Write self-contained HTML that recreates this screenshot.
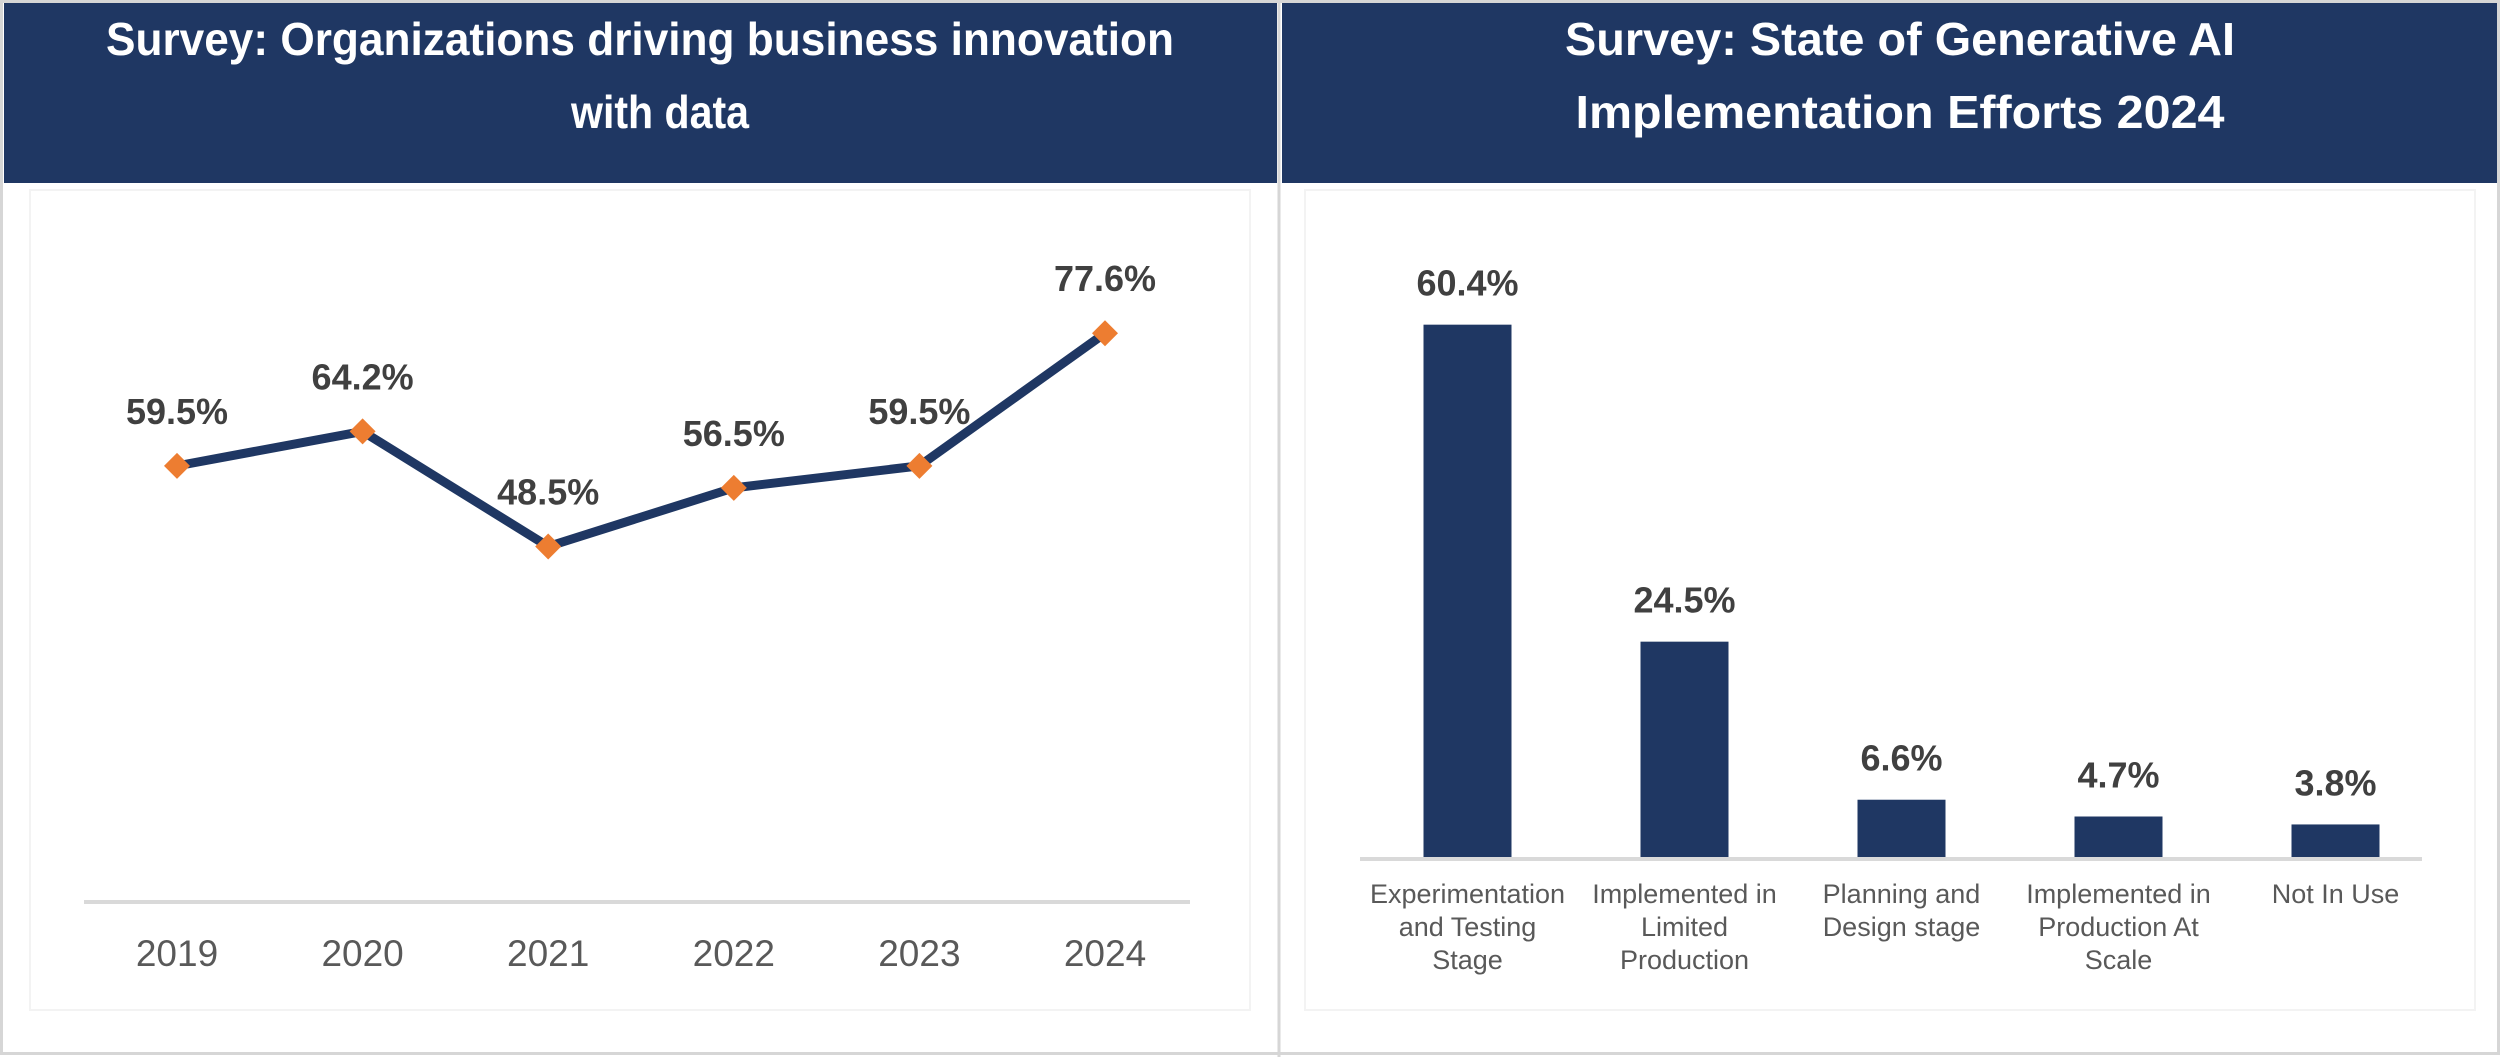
<!DOCTYPE html>
<html><head><meta charset="utf-8"><style>
html,body{margin:0;padding:0;background:#fff;}
svg{display:block;}
text{font-family:"Liberation Sans",sans-serif;}
</style></head><body>
<svg id="root" width="2500" height="1057" viewBox="0 0 2500 1057" xmlns="http://www.w3.org/2000/svg">
<rect x="0" y="0" width="2500" height="1057" fill="#fff"/>
<rect x="1.5" y="1.5" width="2497" height="1052" fill="none" stroke="#d6d6d6" stroke-width="3"/>
<line x1="1279" y1="0" x2="1279" y2="1057" stroke="#d6d6d6" stroke-width="3"/>
<rect x="30" y="190" width="1220" height="820" fill="none" stroke="#f3f3f3" stroke-width="2"/>
<rect x="1305" y="190" width="1170" height="820" fill="none" stroke="#f3f3f3" stroke-width="2"/>
<g>
<rect x="4" y="3" width="1273" height="180" fill="#1f3763"/>
<text x="640" y="55" text-anchor="middle" fill="#fff" font-size="46" font-weight="bold" textLength="1068" lengthAdjust="spacingAndGlyphs">Survey: Organizations driving business innovation</text>
<text x="660" y="128" text-anchor="middle" fill="#fff" font-size="46" font-weight="bold" textLength="178" lengthAdjust="spacingAndGlyphs">with data</text>
</g>
<g>
<rect x="1282" y="3" width="1215" height="180" fill="#1f3763"/>
<text x="1900" y="55" text-anchor="middle" fill="#fff" font-size="46" font-weight="bold" textLength="670" lengthAdjust="spacingAndGlyphs">Survey: State of Generative AI</text>
<text x="1900" y="128" text-anchor="middle" fill="#fff" font-size="46" font-weight="bold" textLength="649" lengthAdjust="spacingAndGlyphs">Implementation Efforts 2024</text>
</g>
<g id="lineChart"></g>
<g id="barChart"></g>
</svg>
<script>
const years = ["2019","2020","2021","2022","2023","2024"];
const innovationValues = [59.5, 64.2, 48.5, 56.5, 59.5, 77.6];
const innovationLabels = ["59.5%","64.2%","48.5%","56.5%","59.5%","77.6%"];

const stages = [["Experimentation","and Testing","Stage"],["Implemented in","Limited","Production"],["Planning and","Design stage"],["Implemented in","Production At","Scale"],["Not In Use"]];
const stageValues = [60.4, 24.5, 6.6, 4.7, 3.8];
const stageLabels = ["60.4%","24.5%","6.6%","4.7%","3.8%"];

const NS = "http://www.w3.org/2000/svg";
function mk(tag, attrs, parent){const e=document.createElementNS(NS,tag);for(const k in attrs)e.setAttribute(k,attrs[k]);parent.appendChild(e);return e;}

// line chart
const lg = document.getElementById('lineChart');
const lx = i => 177 + i*185.6;
const ly = v => 902 - v*7.33;
let ax = mk('line',{x1:84,y1:902,x2:1190,y2:902,stroke:'#d9d9d9','stroke-width':4},lg);


years.forEach((y,i)=>{
  const t = mk('text',{x:lx(i),y:966,'text-anchor':'middle','font-size':37,fill:'#595959'},lg);
  t.textContent=y;
  
  
});
const pts = innovationValues.map((v,i)=>lx(i)+','+ly(v)).join(' ');
const pl = mk('polyline',{points:pts,fill:'none',stroke:'#1f3763','stroke-width':9,'stroke-linejoin':'round'},lg);


innovationValues.forEach((v,i)=>{
  const x=lx(i), y=ly(v);
  const d = mk('polygon',{points:`${x},${y-13} ${x+13},${y} ${x},${y+13} ${x-13},${y}`,fill:'#ed7d31'},lg);
  
  
  const t = mk('text',{x:x,y:y-42,'text-anchor':'middle','font-size':36,'font-weight':'bold',fill:'#404040'},lg);
  t.textContent=innovationLabels[i];
  
  
});

// bar chart
const bg = document.getElementById('barChart');
const bx = i => 1467.5 + i*217;
const bh = v => v*8.83;
const base = 858;
stageValues.forEach((v,i)=>{
  const r = mk('rect',{x:bx(i)-44,y:base-bh(v),width:88,height:bh(v),fill:'#1f3763'},bg);
  
  
  const t = mk('text',{x:bx(i),y:base-bh(v)-29,'text-anchor':'middle','font-size':36,'font-weight':'bold',fill:'#404040'},bg);
  t.textContent=stageLabels[i];
  
  
  stages[i].forEach((line,j)=>{
    const c = mk('text',{x:bx(i),y:903+j*33,'text-anchor':'middle','font-size':27,fill:'#595959'},bg);
    c.textContent=line;
    
    
  });
});
let bax = mk('line',{x1:1360,y1:859,x2:2422,y2:859,stroke:'#d9d9d9','stroke-width':4},bg);


</script>
</body></html>
